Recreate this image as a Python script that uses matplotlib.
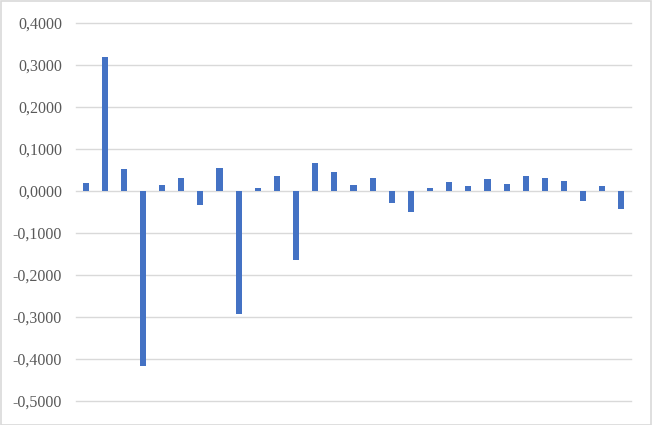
import matplotlib
matplotlib.use("Agg")
import matplotlib.pyplot as plt
from matplotlib.patches import Rectangle
from matplotlib.ticker import FuncFormatter

values = [0.018, 0.318, 0.052, -0.417, 0.014, 0.030, -0.034, 0.055, -0.292, 0.007,
          0.035, -0.164, 0.067, 0.045, 0.014, 0.030, -0.028, -0.050, 0.007, 0.021,
          0.012, 0.028, 0.017, 0.036, 0.030, 0.023, -0.024, 0.012, -0.044]
categories = list(range(1, len(values) + 1))
yticks = [0.4, 0.3, 0.2, 0.1, 0.0, -0.1, -0.2, -0.3, -0.4, -0.5]

W, H = 652, 425
fig = plt.figure(figsize=(W / 100, H / 100), dpi=100)
fig.patch.set_facecolor("white")
fig.patches.append(Rectangle((0.5 / W, 0.5 / H), 1 - 1.5 / W, 1 - 1.5 / H, transform=fig.transFigure,
                             fill=False, edgecolor="#D9D9D9", linewidth=1.2))

ax = fig.add_axes([76 / W, 1 - 401 / H, (631 - 76) / W, (401 - 23) / H])
ax.bar(categories, values, width=0.32, color="#4472C4", zorder=3)
ax.set_xlim(0.5, len(values) + 0.5)
ax.set_ylim(-0.5, 0.4)
ax.set_yticks(yticks)
ax.yaxis.set_major_formatter(FuncFormatter(lambda v, p: f"{v:.4f}".replace(".", ",") if abs(v) > 1e-9 else "0,0000"))
ax.grid(axis="y", color="#D9D9D9", linewidth=1.0, zorder=0)
for gl in ax.yaxis.get_gridlines():
    gl.set_clip_on(False)
ax.set_xticks([])
for s in ax.spines.values():
    s.set_visible(False)
ax.tick_params(axis="y", length=0, pad=10, labelsize=11.5, labelcolor="#595959")
for lab in ax.get_yticklabels():
    lab.set_family("Liberation Serif")

fig.savefig("out.png", dpi=100)
